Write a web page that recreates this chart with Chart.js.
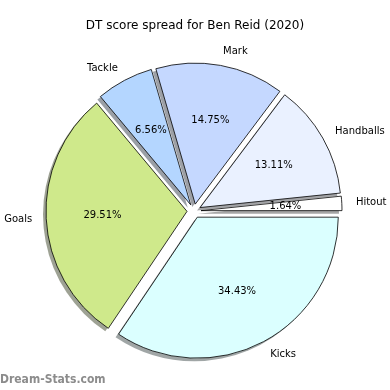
<!DOCTYPE html>
<html>
<head>
<meta charset="utf-8">
<script src="https://cdn.jsdelivr.net/npm/chart.js@4"></script>
<style>
  html, body { margin: 0; padding: 0; background: #fff; }
  #wrap { width: 390px; height: 390px; }
</style>
</head>
<body>
<div id="wrap"><canvas id="pieChart" width="390" height="390"></canvas></div>
<script>
// data (drawn clockwise from east, so reversed from the matplotlib order)
const labels = ['Kicks', 'Goals', 'Tackle', 'Mark', 'Handballs', 'Hitout'];
const counts = [21, 18, 4, 9, 8, 1];
const colours = ['#dbffff', '#cfe98b', '#b4d6ff', '#c5d8ff', '#eaf1ff', '#ffffff'];
const chartTitle = 'DT score spread for Ben Reid (2020)';
const watermark = 'Dream-Stats.com';

const EXPLODE = 7;   // px each wedge is pushed out
const RADIUS = 141;

function shadowOf(hex) {
  const r = parseInt(hex.slice(1, 3), 16), g = parseInt(hex.slice(3, 5), 16), b = parseInt(hex.slice(5, 7), 16);
  return 'rgba(' + Math.round(r * 0.3) + ',' + Math.round(g * 0.3) + ',' + Math.round(b * 0.3) + ',0.5)';
}

const pieExtras = {
  id: 'pieExtras',
  afterDatasetUpdate(chart, args) {
    // explode: move each wedge out along its middle angle
    // (chart.js "offset" also grows the radius of thin slices, so not used)
    args.meta.data.forEach(arc => {
      const mid = (arc.startAngle + arc.endAngle) / 2;
      arc.x += Math.cos(mid) * EXPLODE;
      arc.y += Math.sin(mid) * EXPLODE;
    });
  },
  beforeDatasetsDraw(chart) {
    // gray drop shadow under each wedge, like matplotlib shadow=True
    const ctx = chart.ctx;
    const arcs = chart.getDatasetMeta(0).data;
    ctx.save();
    arcs.forEach((arc, i) => {
      const p = arc.getProps(['x', 'y', 'startAngle', 'endAngle', 'outerRadius']);
      const cx = p.x - 3;
      const cy = p.y + 3;
      ctx.beginPath();
      ctx.moveTo(cx, cy);
      ctx.arc(cx, cy, p.outerRadius, p.startAngle, p.endAngle);
      ctx.closePath();
      ctx.fillStyle = shadowOf(colours[i]);
      ctx.fill();
    });
    ctx.restore();
  },
  afterDraw(chart) {
    const ctx = chart.ctx;
    const arcs = chart.getDatasetMeta(0).data;
    const total = counts.reduce((a, b) => a + b, 0);
    ctx.save();
    ctx.fillStyle = '#000';
    ctx.font = '10px "DejaVu Sans"';
    ctx.textBaseline = 'middle';
    arcs.forEach((arc, i) => {
      const p = arc.getProps(['x', 'y', 'startAngle', 'endAngle', 'outerRadius']);
      const r = p.outerRadius;
      const mid = (p.startAngle + p.endAngle) / 2;
      // outer label
      ctx.textAlign = Math.cos(mid) > 0 ? 'left' : 'right';
      ctx.fillText(labels[i], p.x + Math.cos(mid) * r * 1.1, p.y + Math.sin(mid) * r * 1.1);
      // percentage
      ctx.textAlign = 'center';
      const pct = (counts[i] / total * 100).toFixed(2) + '%';
      ctx.fillText(pct, p.x + Math.cos(mid) * r * 0.6, p.y + Math.sin(mid) * r * 0.6);
    });
    // title
    ctx.textAlign = 'center';
    ctx.font = '12px "DejaVu Sans"';
    ctx.fillText(chartTitle, 195, 26);
    // watermark
    ctx.textAlign = 'left';
    ctx.font = 'bold 12px "DejaVu Sans Condensed", "DejaVu Sans"';
    ctx.fillStyle = '#8c8c8c';
    ctx.fillText(watermark, 0, 380);
    ctx.restore();
  }
};

new Chart(document.getElementById('pieChart'), {
  type: 'pie',
  data: {
    labels: labels,
    datasets: [{
      data: counts,
      backgroundColor: colours,
      borderColor: '#000000',
      borderWidth: 0.8,
      hoverOffset: 0
    }]
  },
  options: {
    responsive: false,
    animation: false,
    rotation: 90,
    radius: RADIUS,
    layout: { padding: { top: 40, bottom: 8, left: 0, right: 2 } },
    plugins: {
      legend: { display: false },
      title: { display: false },
      tooltip: { enabled: false }
    }
  },
  plugins: [pieExtras]
});
</script>
</body>
</html>
